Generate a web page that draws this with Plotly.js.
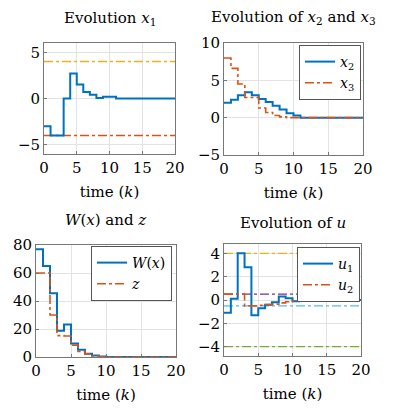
<!DOCTYPE html>
<html>
<head>
<meta charset="utf-8">
<script src="https://cdn.plot.ly/plotly-3.0.1.min.js"></script>
<style>
  html, body { margin: 0; padding: 0; background: #fff; }
  #chart { width: 399px; height: 414px; }
</style>
</head>
<body>
<div id="chart"></div>
<script>
// time steps and series
const k = [0,1,2,3,4,5,6,7,8,9,10,11,12,13,14,15,16,17,18,19,20];
const x1 = [-3,-4,-4,0,2.7,1.5,0.7,0.4,0.05,0.2,0.2,0,0,0,0,0,0,0,0,0,0];
const x2 = [2,2.4,3,3.4,3,2.5,2.1,1.6,1.1,0.6,0.3,0,0,0,0,0,0,0,0,0,0];
const x3 = [8,6.6,4.5,2.7,2.7,1.3,0.7,0.3,0.1,0,0,0,0,0,0,0,0,0,0,0,0];
const W = [77,65,45.5,18.8,23.3,9.6,5.2,2.4,1,0.3,0,0,0,0,0,0,0,0,0,0,0];
const z = [60,60,30,15.3,15,8.5,4,2.3,0.8,0.2,0,0,0,0,0,0,0,0,0,0,0];
const u1 = [-1.1,0.1,4,2.8,-1.3,-0.7,-0.4,-0.2,0.3,0.15,-0.1,0,0,0,0,0,0,0,0,0,0];
const u2 = [0.5,0.5,0.5,-0.5,-0.5,-0.45,-0.4,-0.35,-0.25,-0.15,-0.05,0,0,0,0,0,0,0,0,0,0];
const x1Bounds = [4, -4];
const u1Bounds = [4, -4];
const u2Bounds = [0.5, -0.5];
const kSpan = [0, 20];

const blue = '#0072BD', orange = '#D95319', yellow = '#EDB120',
      purple = '#7E2F8E', green = '#77AC30', cyan = '#4DBEEE';
const serif = '"DejaVu Serif", serif';

function step(y, xa, ya, color, dash, name, legend) {
  return {
    x: k, y: y, xaxis: xa, yaxis: ya, mode: 'lines',
    line: { shape: 'hv', color: color, width: dash === 'solid' ? 2 : 1.6, dash: dash },
    name: name, showlegend: !!name, legend: legend
  };
}
function bound(v, xa, ya, color) {
  return {
    x: kSpan, y: [v, v], xaxis: xa, yaxis: ya, mode: 'lines',
    line: { color: color, width: 1.4, dash: 'dashdot' },
    showlegend: false, hoverinfo: 'skip'
  };
}

const data = [
  bound(x1Bounds[0], 'x', 'y', yellow),
  bound(x1Bounds[1], 'x', 'y', orange),
  step(x1, 'x', 'y', blue, 'solid'),

  step(x2, 'x2', 'y2', blue, 'solid', '<i>x</i><sub>2</sub>', 'legend'),
  step(x3, 'x2', 'y2', orange, 'dashdot', '<i>x</i><sub>3</sub>', 'legend'),

  step(W, 'x3', 'y3', blue, 'solid', '<i>W</i>(<i>x</i>)', 'legend2'),
  step(z, 'x3', 'y3', orange, 'dashdot', '<i>z</i>', 'legend2'),

  bound(u1Bounds[0], 'x4', 'y4', yellow),
  bound(u1Bounds[1], 'x4', 'y4', green),
  bound(u2Bounds[0], 'x4', 'y4', purple),
  bound(u2Bounds[1], 'x4', 'y4', cyan),
  step(u1, 'x4', 'y4', blue, 'solid', '<i>u</i><sub>1</sub>', 'legend3'),
  step(u2, 'x4', 'y4', orange, 'dashdot', '<i>u</i><sub>2</sub>', 'legend3')
];

const W0 = 399, H0 = 414;
const px = (a, b) => [a / W0, b / W0];
const py = (top, bot) => [1 - bot / H0, 1 - top / H0];

const tickFont = { family: serif, size: 15, color: '#000' };
function xax(dom, anchor) {
  return {
    domain: dom, anchor: anchor, range: [0, 20], tickvals: [0,5,10,15,20],
    showgrid: true, gridcolor: '#e3e3e3', zeroline: false,
    showline: true, mirror: true, linecolor: '#777', linewidth: 1,
    ticks: 'inside', ticklen: 3, tickcolor: '#777',
    tickfont: tickFont,
    title: { text: 'time (<i>k</i>)', font: { family: serif, size: 15, color: '#000' }, standoff: 10 }
  };
}
function yax(dom, anchor, range, tv) {
  return {
    domain: dom, anchor: anchor, range: range, tickvals: tv,
    showgrid: true, gridcolor: '#e3e3e3', zeroline: false,
    showline: true, mirror: true, linecolor: '#777', linewidth: 1,
    ticks: 'inside', ticklen: 3, tickcolor: '#777',
    tickfont: tickFont
  };
}
function legendBox(xr, yt) {
  return {
    x: xr / W0, y: 1 - yt / H0, xanchor: 'right', yanchor: 'top',
    bgcolor: '#fff', bordercolor: '#555', borderwidth: 1,
    font: { family: serif, size: 14, color: '#000' },
    tracegroupgap: 0, itemwidth: 30
  };
}
function title(text, xc, yc) {
  return {
    text: text, x: xc / W0, y: 1 - yc / H0, xref: 'paper', yref: 'paper',
    xanchor: 'center', yanchor: 'middle', showarrow: false,
    font: { family: serif, size: 15, color: '#000' }
  };
}

const layout = {
  width: W0, height: H0,
  margin: { l: 0, r: 0, t: 0, b: 0 },
  paper_bgcolor: '#fff', plot_bgcolor: '#fff',
  xaxis: xax(px(44, 175), 'y'),
  yaxis: yax(py(43, 154), 'x', [-6, 6], [-5, 0, 5]),
  xaxis2: xax(px(224, 363), 'y2'),
  yaxis2: yax(py(43, 155), 'x2', [-5, 10], [-5, 0, 5, 10]),
  xaxis3: xax(px(36, 176), 'y3'),
  yaxis3: yax(py(245, 357), 'x3', [0, 80], [0, 20, 40, 60, 80]),
  xaxis4: xax(px(224, 361), 'y4'),
  yaxis4: yax(py(244, 356), 'x4', [-4.8, 4.8], [-4, -2, 0, 2, 4]),
  legend: legendBox(361, 45),
  legend2: legendBox(172, 246),
  legend3: legendBox(360, 247),
  annotations: [
    title('Evolution <i>x</i><sub>1</sub>', 110, 19),
    title('Evolution of <i>x</i><sub>2</sub> and <i>x</i><sub>3</sub>', 293, 18),
    title('<i>W</i>(<i>x</i>) and <i>z</i>', 105, 220),
    title('Evolution of <i>u</i>', 293, 223)
  ],
  showlegend: true
};

Plotly.newPlot('chart', data, layout, { displayModeBar: false, staticPlot: true });
</script>
</body>
</html>
